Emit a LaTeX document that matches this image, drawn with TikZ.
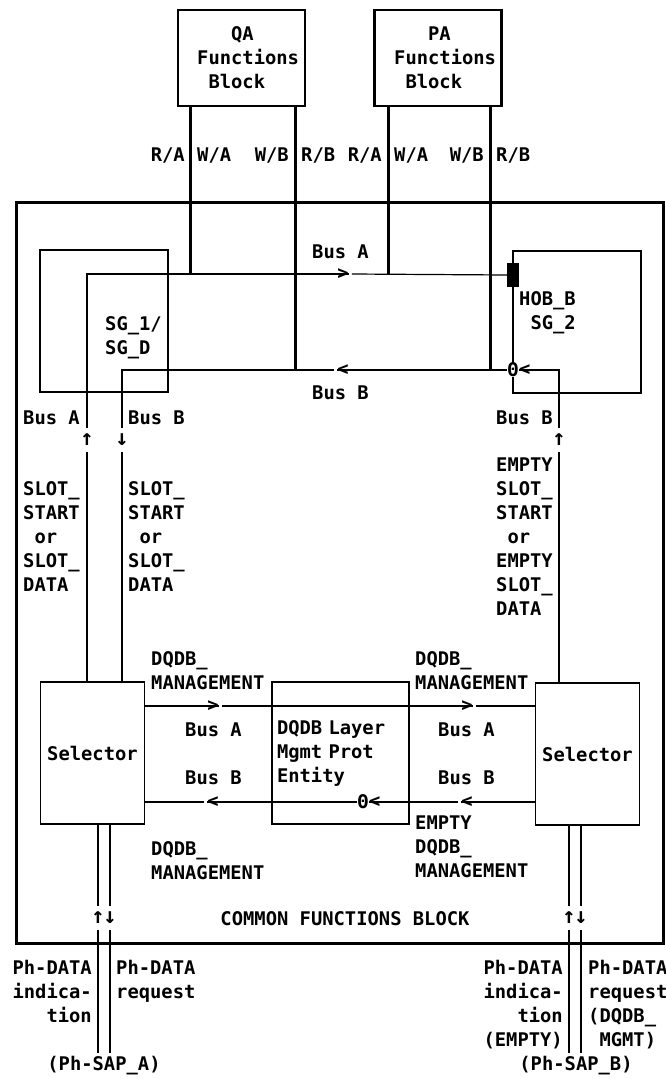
\documentclass[tikz,border=0pt]{standalone}
\usepackage{fontspec}
\newfontfamily\prnfont{DejaVu Sans Mono}
\usetikzlibrary{positioning}
\begin{document}
\begin{tikzpicture}[x=1pt, y=-1pt,
    ln/.style={line width=1.2pt},
    busln/.style={line width=3pt},
    txt/.style={font=\prnfont\bfseries\fontsize{18.8}{24}\selectfont, inner sep=0pt, align=left},
    glyph/.style={font=\prnfont\bfseries\fontsize{18.8}{24}\selectfont, inner sep=0pt},
    arw/.style={font=\prnfont\bfseries\fontsize{22}{24}\selectfont, inner sep=0pt, minimum height=24pt},
    fblock/.style={draw, line width=2.4pt, minimum width=127pt, minimum height=96pt},
    sgbox/.style={draw, ln, minimum width=128pt, minimum height=142pt},
    selbox/.style={draw, ln, txt, minimum width=104pt, minimum height=142pt}]
    \useasboundingbox (0,0) rectangle (666,1078);

    % common functions block and the two upper blocks
    \node[draw, line width=3pt, minimum width=647pt, minimum height=741pt] (cfb) at (339.5,572.5) {};
    \node[txt, anchor=base] (cfbText) at (345,925) {COMMON FUNCTIONS BLOCK};

    \node[fblock] (qa) at (241.5,58) {};
    \node[txt, anchor=west] (qaText) at (197,58) {\phantom{xxx}QA\\Functions\\\phantom{x}Block};
    \node[fblock] (pa) at (438,58) {};
    \node[txt, anchor=west] (paText) at (394,58) {\phantom{xxx}PA\\Functions\\\phantom{x}Block};

    \node[txt, anchor=base east] (qaRA) at (185,162) {R/A};
    \node[txt, anchor=base west] (qaWA) at (197,162) {W/A};
    \node[txt, anchor=base east] (qaWB) at (289,162) {W/B};
    \node[txt, anchor=base west] (qaRB) at (301,162) {R/B};
    \node[txt, anchor=base east] (paRA) at (382,162) {R/A};
    \node[txt, anchor=base west] (paWA) at (394,162) {W/A};
    \node[txt, anchor=base east] (paWB) at (484,162) {W/B};
    \node[txt, anchor=base west] (paRB) at (496,162) {R/B};

    % slot generators
    \node[sgbox] (sgone) at (104,321) {};
    \node[txt, anchor=north west] (sgoneText) at (105,316) {SG\_1/\\SG\_D};
    \node[sgbox] (sgtwo) at (577,322) {};
    \node[txt, anchor=north east, align=right] (sgtwoText) at (576,291) {HOB\_B\\SG\_2};
    \node[fill=black, minimum width=12pt, minimum height=24pt, inner sep=0pt] (hob) at (513,275) {};
    \node[glyph, fill=white] (thB) at (513,370) {Θ};
    \node[glyph, right=0pt of thB] (ltB) {<};

    \coordinate (aL) at (87,274);
    \coordinate (bL) at (122,370);
    \coordinate (bR) at (559,370);
    \coordinate (jqa) at (190,274);
    \coordinate (jqb) at (295,370);
    \coordinate (jpa) at (388,274);
    \coordinate (jpb) at (490,370);

    \node[glyph] (gtA) at (343,274) {>};
    \node[glyph] (ltBu) at (343,370) {<};
    \node[txt, anchor=base west] (busAu) at (312,258) {Bus A};
    \node[txt, anchor=base west] (busBu) at (312,399) {Bus B};

    \node[arw] (upA) at (87,440) {↑};
    \node[arw] (dnB) at (122,440) {↓};
    \node[arw] (upBr) at (559,440) {↑};

    \node[txt, anchor=base west] (busAl) at (23,424) {Bus A};
    \node[txt, anchor=base west] (busBl) at (128,424) {Bus B};
    \node[txt, anchor=base east] (busBr) at (553,424) {Bus B};
    \node[txt, anchor=north west] (slotA) at (23,481) {SLOT\_\\START\\\phantom{x}or\\SLOT\_\\DATA};
    \node[txt, anchor=north west] (slotB) at (128,481) {SLOT\_\\START\\\phantom{x}or\\SLOT\_\\DATA};
    \node[txt, anchor=north west] (slotE) at (496,458) {EMPTY\\SLOT\_\\START\\\phantom{x}or\\EMPTY\\SLOT\_\\DATA};

    % selectors and layer management
    \node[selbox] (selA) at (92.5,753) {Selector};
    \node[selbox] (selB) at (587.5,754) {Selector};
    \node[draw, ln, txt, minimum width=137pt, minimum height=142pt, text width=127pt] (lme) at (340.5,753) {DQDB Layer\\Mgmt Prot\\Entity};

    \node[glyph] (gtL) at (213,706) {>};
    \node[glyph] (gtR) at (467,706) {>};
    \node[glyph] (ltL) at (213,802) {<};
    \node[glyph] (ltR) at (467,802) {<};
    \node[glyph] (thL) at (363,802) {Θ};
    \node[glyph, right=0pt of thL] (ltM) {<};

    \node[txt, anchor=north west] (mgmtUL) at (151,651) {DQDB\_\\MANAGEMENT};
    \node[txt, anchor=north west] (mgmtUR) at (415,651) {DQDB\_\\MANAGEMENT};
    \node[txt, anchor=north west] (mgmtLL) at (151,841) {DQDB\_\\MANAGEMENT};
    \node[txt, anchor=north west] (mgmtLR) at (415,816) {EMPTY\\DQDB\_\\MANAGEMENT};
    \node[txt, anchor=base west] (busAlo) at (185,736) {Bus A};
    \node[txt, anchor=base west] (busBlo) at (185,784) {Bus B};
    \node[txt, anchor=base west] (busAro) at (438,736) {Bus A};
    \node[txt, anchor=base west] (busBro) at (438,784) {Bus B};

    % physical service access points
    \node[arw] (upPA) at (98,918) {↑};
    \node[arw] (dnPA) at (110,918) {↓};
    \node[arw] (upPB) at (569,918) {↑};
    \node[arw] (dnPB) at (581,918) {↓};
    \coordinate (sapA1) at (98,1053);
    \coordinate (sapA2) at (110,1053);
    \coordinate (sapB1) at (569,1053);
    \coordinate (sapB2) at (581,1053);
    \node[txt, anchor=north east, align=right] (indA) at (92,960) {Ph-DATA\\indica-\\tion};
    \node[txt, anchor=north west] (reqA) at (116,960) {Ph-DATA\\request};
    \node[txt, anchor=base] (sapA) at (104,1070) {(Ph-SAP\_A)};
    \node[txt, anchor=north east, align=right] (indB) at (563,960) {Ph-DATA\\indica-\\tion\\(EMPTY)};
    \node[txt, anchor=north west] (reqB) at (588,960) {Ph-DATA\\request\\(DQDB\_\\\phantom{x}MGMT)};
    \node[txt, anchor=base] (sapB) at (576,1070) {(Ph-SAP\_B)};

    % buses
    \draw[busln] (qa.south -| jqa) -- (jqa);
    \draw[busln] (qa.south -| jqb) -- (jqb);
    \draw[busln] (pa.south -| jpa) -- (jpa);
    \draw[busln] (pa.south -| jpb) -- (jpb);

    \draw[ln] (selA.north -| upA) -- (upA.south);
    \draw[ln] (upA.north) -- (aL) -- (gtA.east);
    \draw[ln] ([xshift=3pt]gtA.east) -- (hob.west);
    \draw[ln] (thB.west) -- (ltBu.west);
    \draw[ln] ([xshift=-3pt]ltBu.west) -- (bL) -- (dnB.north);
    \draw[ln] (dnB.south) -- (selA.north -| dnB);
    \draw[ln] (selB.north -| upBr) -- (upBr.south);
    \draw[ln] (upBr.north) -- (bR) -- (ltB.west);

    \draw[ln] (selA.east |- gtL) -- (gtL.east);
    \draw[ln] ([xshift=3pt]gtL.east) -- (gtR.east);
    \draw[ln] ([xshift=3pt]gtR.east) -- (selB.west |- gtR);
    \draw[ln] (selB.west |- ltR) -- (ltR.west);
    \draw[ln] ([xshift=-3pt]ltR.west) -- (ltM.west);
    \draw[ln] (thL.west) -- (ltL.west);
    \draw[ln] ([xshift=-3pt]ltL.west) -- (selA.east |- ltL);

    \draw[ln] (selA.south -| upPA) -- (upPA.north);
    \draw[ln] (upPA.south) -- (sapA1);
    \draw[ln] (selA.south -| dnPA) -- (dnPA.north);
    \draw[ln] (dnPA.south) -- (sapA2);
    \draw[ln] (selB.south -| upPB) -- (upPB.north);
    \draw[ln] (upPB.south) -- (sapB1);
    \draw[ln] (selB.south -| dnPB) -- (dnPB.north);
    \draw[ln] (dnPB.south) -- (sapB2);
\end{tikzpicture}
\end{document}
